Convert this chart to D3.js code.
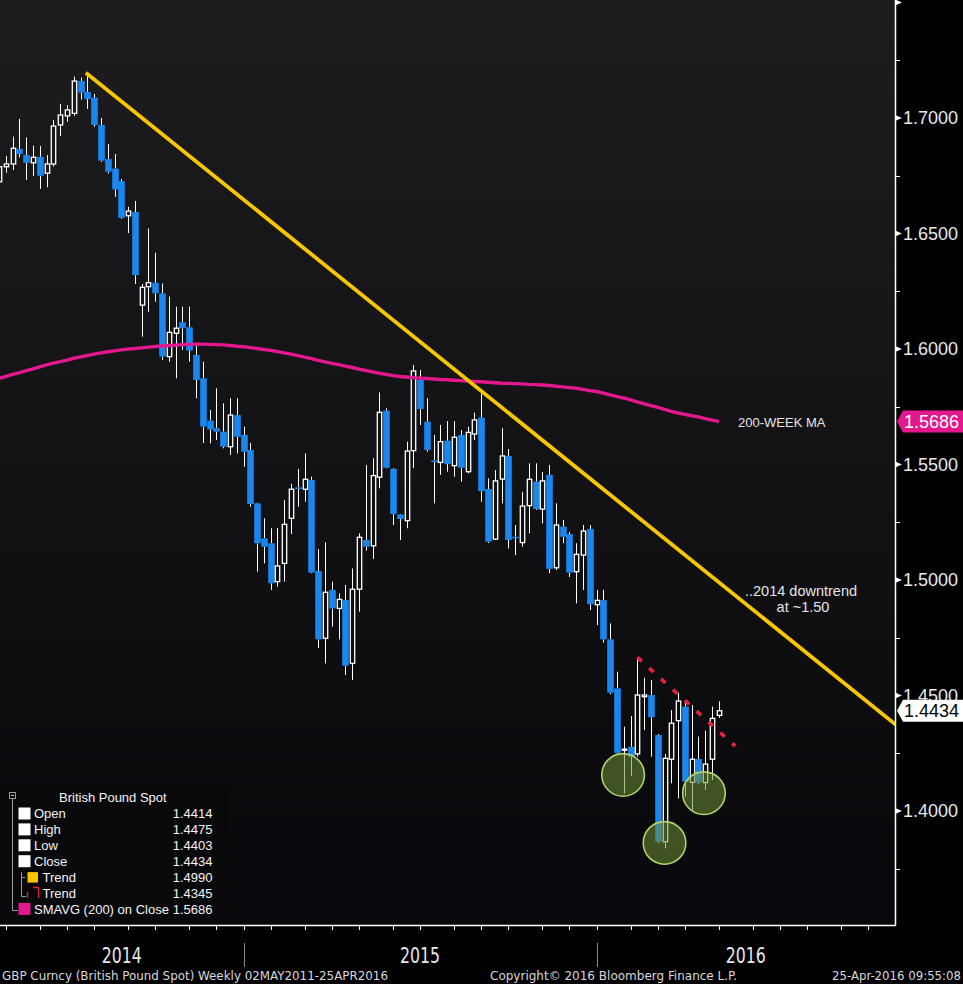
<!DOCTYPE html>
<html><head><meta charset="utf-8">
<script src="https://cdn.jsdelivr.net/npm/d3@7"></script>
<style>
html,body{margin:0;padding:0;background:#000;}
svg{display:block;}
</style></head><body>
<svg id="c" width="963" height="984"></svg>
<script>
// ---------------- DATA ----------------
// Weekly candles, week ending Fri 18-Apr-2014 (index 0) ... 29-Apr-2016 (index 106)
const opens = [1.6724,1.6789,1.6801,1.6866,1.6840,1.6806,1.6832,1.6761,1.6801,1.6970,
1.7009,1.7020,1.7160,1.7113,1.7088,1.6970,1.6822,1.6781,1.6727,1.6577,
1.6593,1.6190,1.6270,1.6287,1.6241,1.5967,1.6068,1.6116,1.6094,1.5974,
1.5873,1.5690,1.5657,1.5642,1.5577,1.5714,1.5628,1.5563,1.5332,1.5180,
1.5159,1.4993,1.5072,1.5267,1.5401,1.5393,1.5433,1.5039,1.4748,1.4957,
1.4877,1.4913,1.4639,1.4960,1.5173,1.5148,1.5445,1.5733,1.5481,1.5284,
1.5257,1.5560,1.5866,1.5685,1.5517,1.5509,1.5603,1.5495,1.5628,1.5469,
1.5632,1.5703,1.5394,1.5177,1.5437,1.5537,1.5187,1.5162,1.5322,1.5426,
1.5307,1.5455,1.5053,1.5231,1.5199,1.5036,1.5108,1.5221,1.4893,1.4913,
1.4743,1.4531,1.4264,1.4278,1.4247,1.4495,1.4502,1.4329,1.3867,1.4224,
1.4391,1.4452,1.4124,1.4225,1.4123,1.4224,1.4414];
const highs = [1.6840,1.6836,1.6919,1.6996,1.6916,1.6880,1.6879,1.6840,1.6991,1.7061,
1.7056,1.7179,1.7175,1.7191,1.7104,1.7000,1.6887,1.6844,1.6736,1.6616,
1.6641,1.6281,1.6522,1.6417,1.6284,1.6227,1.6183,1.6183,1.6183,1.6017,
1.5945,1.5736,1.5830,1.5765,1.5787,1.5787,1.5664,1.5593,1.5335,1.5267,
1.5224,1.5225,1.5346,1.5416,1.5481,1.5548,1.5447,1.5134,1.5163,1.4993,
1.4942,1.4978,1.5050,1.5202,1.5498,1.5527,1.5812,1.5743,1.5484,1.5286,
1.5599,1.5931,1.5909,1.5787,1.5628,1.5671,1.5688,1.5688,1.5649,1.5664,
1.5724,1.5808,1.5440,1.5476,1.5657,1.5567,1.5238,1.5382,1.5505,1.5505,
1.5467,1.5498,1.5332,1.5260,1.5208,1.5159,1.5238,1.5238,1.4957,1.4957,
1.4812,1.4603,1.4365,1.4411,1.4665,1.4577,1.4567,1.4333,1.4247,1.4437,
1.4512,1.4469,1.4459,1.4322,1.4348,1.4452,1.4475];
const lows = [1.6645,1.6763,1.6775,1.6830,1.6732,1.6749,1.6693,1.6700,1.6790,1.6922,
1.6984,1.7009,1.7080,1.7039,1.6962,1.6810,1.6760,1.6659,1.6563,1.6502,
1.6281,1.6053,1.6161,1.6205,1.5952,1.5945,1.5873,1.5996,1.5945,1.5787,
1.5593,1.5592,1.5606,1.5570,1.5541,1.5548,1.5490,1.5317,1.5036,1.5072,
1.4957,1.4971,1.4993,1.5199,1.5317,1.5339,1.5029,1.4706,1.4639,1.4798,
1.4743,1.4589,1.4567,1.4863,1.5127,1.5091,1.5397,1.5483,1.5238,1.5173,
1.5224,1.5484,1.5671,1.5555,1.5332,1.5455,1.5469,1.5447,1.5426,1.5462,
1.5606,1.5339,1.5160,1.5173,1.5332,1.5137,1.5108,1.5144,1.5202,1.5303,
1.5245,1.5029,1.5043,1.5159,1.5013,1.4899,1.4957,1.4870,1.4805,1.4729,
1.4505,1.4245,1.4077,1.4152,1.4235,1.4351,1.4235,1.3860,1.3838,1.4120,
1.4055,1.4062,1.4004,1.4115,1.4091,1.4134,1.4403];
const closes = [1.6789,1.6801,1.6869,1.6844,1.6806,1.6830,1.6750,1.6801,1.6965,1.7013,
1.7035,1.7160,1.7110,1.7082,1.6970,1.6815,1.6768,1.6691,1.6568,1.6597,
1.6320,1.6267,1.6287,1.6241,1.5967,1.6072,1.6090,1.6090,1.5993,1.5866,
1.5664,1.5652,1.5642,1.5577,1.5714,1.5620,1.5555,1.5329,1.5159,1.5144,
1.4986,1.5061,1.5241,1.5393,1.5394,1.5436,1.5032,1.4743,1.4947,1.4877,
1.4916,1.4629,1.4960,1.5185,1.5144,1.5452,1.5726,1.5486,1.5286,1.5264,
1.5558,1.5905,1.5740,1.5563,1.5514,1.5599,1.5502,1.5618,1.5486,1.5639,
1.5693,1.5385,1.5166,1.5429,1.5537,1.5173,1.5182,1.5320,1.5436,1.5307,
1.5429,1.5048,1.5238,1.5187,1.5032,1.5111,1.5212,1.4895,1.4912,1.4743,
1.4512,1.4252,1.4268,1.4235,1.4502,1.4502,1.4406,1.3867,1.4228,1.4380,
1.4476,1.4127,1.4224,1.4123,1.4203,1.4401,1.4434];
// 200-week simple moving average on close
const sma200 = [1.5873,1.5881,1.5890,1.5898,1.5906,1.5914,1.5923,1.5931,1.5939,1.5945,
1.5952,1.5960,1.5966,1.5972,1.5978,1.5983,1.5988,1.5992,1.5996,1.6000,
1.6002,1.6005,1.6008,1.6011,1.6013,1.6015,1.6017,1.6019,1.6020,1.6021,
1.6021,1.6020,1.6019,1.6018,1.6015,1.6012,1.6010,1.6006,1.6002,1.5998,
1.5994,1.5989,1.5983,1.5978,1.5971,1.5965,1.5958,1.5951,1.5944,1.5938,
1.5932,1.5926,1.5920,1.5913,1.5907,1.5901,1.5895,1.5890,1.5885,1.5881,
1.5879,1.5876,1.5874,1.5872,1.5870,1.5868,1.5867,1.5865,1.5863,1.5861,
1.5859,1.5858,1.5856,1.5854,1.5852,1.5851,1.5850,1.5849,1.5847,1.5846,
1.5844,1.5842,1.5839,1.5836,1.5833,1.5830,1.5825,1.5820,1.5816,1.5809,
1.5801,1.5794,1.5788,1.5780,1.5771,1.5763,1.5755,1.5747,1.5739,1.5730,
1.5723,1.5717,1.5711,1.5706,1.5699,1.5692,1.5686];

// x axis: week indices of monthly ticks, year boundaries, year labels
const monthTickWeeks = [1,6,10,14,19,23,28,32,36,40,45,49,53,58,62,67,71,75,80,84,88,93,97,101,106,111,115,119,124,128];
const yearBoundaryWeeks = [36, 88];
const yearLabels = ["2014","2015","2016"];
const lastWeekSlot = 132;       // right edge of plot, in weeks
// y axis
const priceLabels = ["1.4000","1.4500","1.5000","1.5500","1.6000","1.6500","1.7000"];
const majorTicks = [1.40,1.45,1.50,1.55,1.60,1.65,1.70,1.75];
const minorTicks = [1.375,1.425,1.475,1.525,1.575,1.625,1.675,1.725];
// trend lines [week, price]
const yellowTrend = [[13,1.7191],[106,1.4990]];
const redTrend = [[94,1.4665],[106,1.4345]];
const redTrendEndWeek = 108.4;
// highlighted lows [week, price]
const circleWeeks = [91.9, 98.0, 103.8];
const circlePrices = [1.4156, 1.3862, 1.4077];
// legend
const legendTitle = "British Pound Spot";
const legendLabels = ["Open","High","Low","Close","Trend","Trend","SMAVG (200) on Close"];
const legendValues = ["1.4414","1.4475","1.4403","1.4434","1.4990","1.4345","1.5686"];
const lastPrice = 1.4434, lastSma = 1.5686;
const footerLeft = "GBP Curncy (British Pound Spot)  Weekly 02MAY2011-25APR2016";
const footerMid = "Copyright\u00A9 2016 Bloomberg Finance L.P.";
const footerRight = "25-Apr-2016 09:55:08";

// ---------------- DRAW ----------------
const W = 963, H = 984, plotR = 895, plotB = 925;
const FONT = "'Liberation Sans', Arial, sans-serif";
const NARROW = "'Liberation Sans Narrow','DejaVu Sans Condensed','Arial Narrow',sans-serif";
const BLUE = "#1a86ee", MAG = "#e3188c", YEL = "#f7c600", RED = "#e2243e";

const svg = d3.select("#c");
const x = d3.scaleLinear().domain([0, lastWeekSlot]).range([-0.9, 895.4]);
const y = d3.scaleLinear().domain([1.40, 1.70]).range([811, 118]);

svg.append("rect").attr("width", W).attr("height", H).attr("fill", "#000");
const defs = svg.append("defs");
const gr = defs.append("linearGradient").attr("id","bg").attr("x1",0).attr("y1",0).attr("x2",0).attr("y2",1);
gr.append("stop").attr("offset","0%").attr("stop-color","#1d1d1f");
gr.append("stop").attr("offset","100%").attr("stop-color","#08080c");
defs.append("clipPath").attr("id","clip").append("rect").attr("width", plotR).attr("height", plotB);
svg.append("rect").attr("width", plotR).attr("height", plotB).attr("fill", "url(#bg)");

const plot = svg.append("g").attr("clip-path", "url(#clip)");

// candles
const cg = plot.append("g");
d3.range(closes.length).forEach(i => {
  const cx = Math.round(x(i)) + 0.5;
  const o = opens[i], c = closes[i];
  const up = c >= o;
  const top = y(Math.max(o, c)), bot = y(Math.min(o, c));
  cg.append("line").attr("x1", cx).attr("x2", cx).attr("y1", y(highs[i])).attr("y2", top)
    .attr("stroke", "#fff").attr("stroke-width", 1);
  cg.append("line").attr("x1", cx).attr("x2", cx).attr("y1", bot).attr("y2", y(lows[i]))
    .attr("stroke", "#fff").attr("stroke-width", 1);
  if (up) {
    cg.append("rect").attr("x", cx - 2.2).attr("width", 4.4).attr("y", top)
      .attr("height", Math.max(bot - top, 1.2)).attr("fill", "none")
      .attr("stroke", "#fff").attr("stroke-width", 1.3);
  } else {
    cg.append("rect").attr("x", cx - 3.3).attr("width", 6.6).attr("y", top)
      .attr("height", Math.max(bot - top, 1.5)).attr("fill", BLUE);
  }
});

// 200-week MA
plot.append("path").datum(sma200)
  .attr("d", d3.line().x((d, i) => x(i)).y(d => y(d)))
  .attr("fill", "none").attr("stroke", MAG).attr("stroke-width", 3.4).attr("stroke-linejoin", "round");

// trend lines
function trendAt(t, k) { const [a, b] = t; return a[1] + (k - a[0]) * (b[1] - a[1]) / (b[0] - a[0]); }
plot.append("line")
  .attr("x1", x(yellowTrend[0][0])).attr("y1", y(yellowTrend[0][1]))
  .attr("x2", x(lastWeekSlot)).attr("y2", y(trendAt(yellowTrend, lastWeekSlot)))
  .attr("stroke", YEL).attr("stroke-width", 3.8).attr("stroke-linecap", "square");
plot.append("line")
  .attr("x1", x(redTrend[0][0])).attr("y1", y(redTrend[0][1]))
  .attr("x2", x(redTrendEndWeek)).attr("y2", y(trendAt(redTrend, redTrendEndWeek)))
  .attr("stroke", RED).attr("stroke-width", 3.6).attr("stroke-dasharray", "6,10");

// circles
plot.selectAll("circle.low").data(circleWeeks).enter().append("circle")
  .attr("cx", d => x(d)).attr("cy", (d, i) => y(circlePrices[i])).attr("r", 21.3)
  .attr("fill", "rgb(112,142,52)").attr("fill-opacity", 0.55)
  .attr("stroke", "#b0d06a").attr("stroke-width", 1.6);

// annotations
svg.append("text").attr("x", 738).attr("y", 427).text("200-WEEK MA")
  .attr("font-family", FONT).attr("font-size", 13).attr("fill", "#e4e4e4");
svg.append("text").attr("x", 801).attr("y", 596).attr("text-anchor", "middle").text("..2014 downtrend")
  .attr("font-family", FONT).attr("font-size", 14.5).attr("fill", "#e4e4e4");
svg.append("text").attr("x", 803).attr("y", 612).attr("text-anchor", "middle").text("at ~1.50")
  .attr("font-family", FONT).attr("font-size", 14.5).attr("fill", "#e4e4e4");

// legend
const lg = svg.append("g");
lg.append("rect").attr("x", 0).attr("y", 786).attr("width", 228).attr("height", 133)
  .attr("fill", "#09090c").attr("opacity", 0.85);
lg.append("rect").attr("x", 9.5).attr("y", 792.5).attr("width", 6).attr("height", 6)
  .attr("fill", "none").attr("stroke", "#999").attr("stroke-width", 1);
lg.append("line").attr("x1", 11).attr("x2", 14).attr("y1", 795.5).attr("y2", 795.5).attr("stroke", "#bbb");
lg.append("path").attr("d", "M12.5,799V910.5H18").attr("fill", "none").attr("stroke", "#999").attr("stroke-width", 1);
lg.append("path").attr("d", "M21.5,872V896.5H26M21.5,877.5H25").attr("fill", "none").attr("stroke", "#999").attr("stroke-width", 1);
lg.append("text").attr("x", 59).attr("y", 801.5).text(legendTitle)
  .attr("font-family", FONT).attr("font-size", 13).attr("fill", "#f2f2f2");
legendLabels.forEach((lab, i) => {
  const cy = 813.5 + i * 15.9;
  let tx = 34;
  if (i < 4) {
    lg.append("rect").attr("x", 18.5).attr("y", cy - 6).attr("width", 12).attr("height", 12).attr("fill", "#fff");
  } else if (i === 4) {
    lg.append("rect").attr("x", 27.5).attr("y", cy - 5).attr("width", 10.5).attr("height", 10.5).attr("fill", YEL);
    tx = 42.5;
  } else if (i === 5) {
    lg.append("path").attr("d", `M27.5,${cy-1}V${cy+5}M33,${cy-5.5}H38.5V${cy+5}`)
      .attr("fill", "none").attr("stroke", RED).attr("stroke-width", 1.3);
    tx = 42.5;
  } else {
    lg.append("rect").attr("x", 18.5).attr("y", cy - 6).attr("width", 12).attr("height", 12).attr("fill", MAG);
  }
  lg.append("text").attr("x", tx).attr("y", cy + 4.6).text(lab)
    .attr("font-family", FONT).attr("font-size", 13).attr("fill", "#f2f2f2");
  lg.append("text").attr("x", 212.5).attr("y", cy + 4.6).attr("text-anchor", "end").text(legendValues[i])
    .attr("font-family", FONT).attr("font-size", 13).attr("fill", "#f2f2f2");
});

// right axis
const ax = svg.append("g");
ax.append("line").attr("x1", plotR + 0.5).attr("x2", plotR + 0.5).attr("y1", 0).attr("y2", plotB + 1)
  .attr("stroke", "#fff").attr("stroke-width", 1.5);
majorTicks.forEach(v => {
  const yy = y(v);
  ax.append("path").attr("d", `M${plotR},${yy - 3}L${plotR + 7},${yy}L${plotR},${yy + 3}Z`).attr("fill", "#fff");
});
minorTicks.forEach(v => {
  const yy = Math.round(y(v)) + 0.5;
  ax.append("line").attr("x1", plotR).attr("x2", plotR + 5).attr("y1", yy).attr("y2", yy).attr("stroke", "#fff");
});
priceLabels.forEach(s => {
  ax.append("text").attr("x", 903).attr("y", y(+s)).attr("dy", "0.36em").text(s)
    .attr("font-family", FONT).attr("font-size", 18).attr("fill", "#e8e8e8");
});

// bottom axis
ax.append("line").attr("x1", 0).attr("x2", plotR + 1).attr("y1", plotB + 0.5).attr("y2", plotB + 0.5)
  .attr("stroke", "#fff").attr("stroke-width", 1.5);
monthTickWeeks.forEach(k => {
  const xx = Math.round(x(k)) + 0.5;
  ax.append("line").attr("x1", xx).attr("x2", xx).attr("y1", plotB).attr("y2", plotB + 5).attr("stroke", "#fff");
});
yearBoundaryWeeks.forEach(k => {
  const xx = Math.round(x(k)) + 0.5;
  ax.append("line").attr("x1", xx).attr("x2", xx).attr("y1", 943).attr("y2", 967).attr("stroke", "#8a8a8a");
});
const bounds = [0, ...yearBoundaryWeeks.map(k => x(k)), plotR];
yearLabels.forEach((s, i) => {
  ax.append("text").attr("x", (bounds[i] + bounds[i + 1]) / 2).attr("y", 963).attr("text-anchor", "middle")
    .text(s).attr("font-family", NARROW).attr("font-size", 21).attr("fill", "#e8e8e8")
    .attr("textLength", 40).attr("lengthAdjust", "spacingAndGlyphs");
});

// footer
const foot = (t, xx, anchor, len) => ax.append("text").attr("x", xx).attr("y", 980).attr("text-anchor", anchor)
  .text(t).attr("font-family", NARROW).attr("font-size", 13).attr("fill", "#d8d8d8")
  .attr("textLength", len).attr("lengthAdjust", "spacingAndGlyphs");
foot(footerLeft, 2, "start", 386);
foot(footerMid, 490, "start", 247);
foot(footerRight, 961, "end", 129);

// value tags (the 1.4434 tag partly covers the 1.4500 label, as in the reference)
function tag(v, fill, txtFill) {
  const yc = y(v);
  svg.append("path").attr("d", `M897,${yc}L903,${yc - 11}H963V${yc + 11}H903Z`).attr("fill", fill);
  svg.append("text").attr("x", 904).attr("y", yc).attr("dy", "0.36em").text(v.toFixed(4))
    .attr("font-family", FONT).attr("font-size", 18).attr("fill", txtFill);
}
tag(lastSma, MAG, "#fff");
tag(lastPrice, "#fff", "#000");
</script>
</body></html>
